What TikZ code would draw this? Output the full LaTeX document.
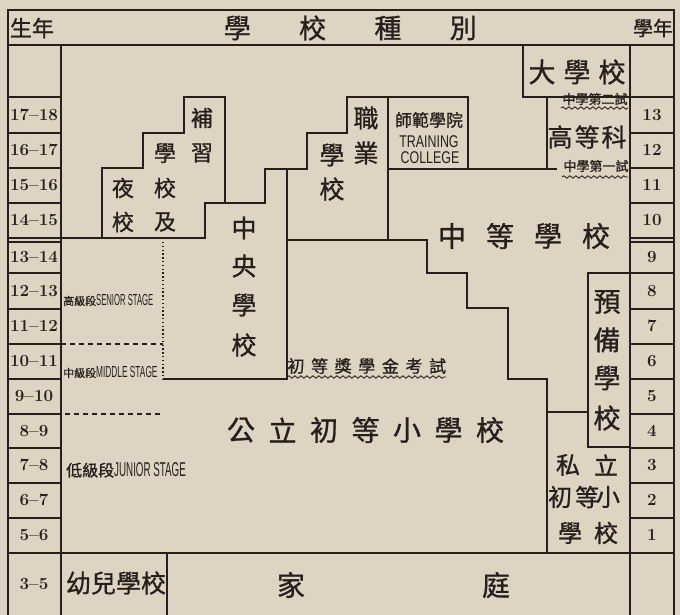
\documentclass[tikz,border=0pt]{standalone}
\usepackage{fontspec}
\usepackage{tikz}
\usetikzlibrary{decorations.pathmorphing}
\newfontfamily\cjk[FakeBold=1]{Noto Sans CJK TC}
\newfontfamily\narrowfont{Liberation Sans}
\definecolor{paper}{RGB}{221,212,196}
\definecolor{ink}{RGB}{40,31,27}

\begin{document}
\begin{tikzpicture}[x=1pt,y=-1pt,
rule/.style={draw=ink,line width=1.3pt},
wave/.style={draw=ink,line width=0.9pt,decorate,decoration={snake,amplitude=1.2pt,segment length=6pt}},
han/.style={text=ink,inner sep=0pt,font=\cjk\fontsize{#1}{#1}\selectfont},
num/.style={text=ink,inner sep=0pt,font=\fontsize{17}{17}\selectfont\bfseries},
stage/.style={text=ink,inner sep=0pt,anchor=west}]

% paper
\fill[paper] (0,0) rectangle (680,615);
\useasboundingbox (0,0) rectangle (680,615);

% frame, header and year columns
\draw[rule] (8,615) -- (8,10) -- (674,10) -- (674,615);
\draw[rule] (8,45) -- (674,45);
\draw[rule] (61,45) -- (61,615);
\draw[rule] (630,45) -- (630,615);
\foreach \y in {97,133,168,203,238,242,273,309,344,379,414,448,483,518}
  \draw[rule] (8,\y) -- (61,\y) (630,\y) -- (674,\y);
\draw[rule] (8,553) -- (674,553);

\node[han=22] (shengnian) at (32,28) {生年};
\foreach \c [count=\i] in {學,校,種,別}
  \node[han=27] (title\i) at (162+75.3*\i,28) {\c};
\node[han=20] (xuenian) at (653,28) {學年};

% ages and school years
\foreach \y/\a/\n in {115/17--18/13,150/16--17/12,185/15--16/11,220/14--15/10,
  257/13--14/9,291/12--13/8,326/11--12/7,361/10--11/6,396/9--10/5,431/8--9/4,
  465/7--8/3,500/6--7/2,535/5--6/1}
{
  \node[num] (age\n) at (34,\y) {\a};
  \node[num] (year\n) at (652,\y) {\n};
}
\node[num] (age0) at (34,584) {3--5};

% school boxes
\draw[rule] (523,45) -- (523,97) -- (630,97);
\draw[rule] (547,97) -- (547,169);
\draw[rule] (388,169) -- (557,169);
\draw[rule] (388,240) -- (388,97) -- (468,97) -- (468,169);
\draw[rule] (388,97) -- (347,97) -- (347,133) -- (307,133) -- (307,169) -- (265,169)
  -- (265,203) -- (205,203) -- (205,238) -- (61,238);
\draw[rule] (225,203) -- (225,97) -- (184,97) -- (184,133) -- (143,133) -- (143,168)
  -- (102,168) -- (102,238);
\draw[rule] (287,169) -- (287,379) -- (163,379);
\draw[rule] (287,240) -- (427,240) -- (427,273) -- (467,273) -- (467,308) -- (508,308)
  -- (508,379) -- (547,379) -- (547,553);
\draw[rule] (630,273) -- (588,273) -- (588,447) -- (630,447);
\draw[rule] (547,412) -- (588,412);
\draw[rule] (167,553) -- (167,615);

% stages
\draw[ink,line width=1.2pt,dash pattern=on 5pt off 4pt] (61,344) -- (163,344);
\draw[ink,line width=1.2pt,dash pattern=on 5pt off 4pt] (65,414) -- (161,414);
\draw[ink,line width=1.3pt,dash pattern=on 1.3pt off 2.5pt] (163,242) -- (163,379);

% exams
\draw[wave] (287,377) -- (446,377);
\draw[wave] (561,108) -- (628,108);
\draw[wave] (562,177) -- (628,177);

% school names
\foreach \c/\x in {大/542,學/577,校/612}
  \node[han=27] (daxue\x) at (\x,72) {\c};
\node[han=13] (exam2) at (595,99) {中學第二試};
\foreach \c/\x in {高/560,等/587,科/614}
  \node[han=25] (gaodeng\x) at (\x,137) {\c};
\node[han=13] (exam1) at (596,166) {中學第一試};
\node[han=17] (shifan) at (429,120) {師範學院};
\node[text=ink,inner sep=0pt] (training) at (429,142)
  {\scalebox{0.73}[1]{\narrowfont\fontsize{17}{17}\selectfont TRAINING}};
\node[text=ink,inner sep=0pt] (college) at (430,158)
  {\scalebox{0.73}[1]{\narrowfont\fontsize{17}{17}\selectfont COLLEGE}};
\foreach \c/\x/\y in {職/366/118,業/366/153,學/332/155,校/332/189}
  \node[han=25] (zhiye\x\y) at (\x,\y) {\c};
\foreach \c/\x/\y in {補/202/118,習/202/153,學/165/153,校/165/188,及/165/222,夜/123/188,校/123/222}
  \node[han=22] (buxi\x\y) at (\x,\y) {\c};
\foreach \c/\y in {中/228,央/266,學/305,校/345}
  \node[han=25] (zhongyang\y) at (244,\y) {\c};
\foreach \c/\x in {中/452,等/500,學/548,校/596}
  \node[han=28] (zhongdeng\x) at (\x,236) {\c};
\foreach \c/\y in {預/302,備/340,學/378,校/418}
  \node[han=27] (yubei\y) at (607,\y) {\c};
\foreach \c/\x/\y in {私/568/465,立/606/465,初/560/497,等/587/497,小/608/497,學/570/533,校/606/533}
  \node[han=24] (sili\x\y) at (\x,\y) {\c};
\foreach \c [count=\i from 0] in {公,立,初,等,小,學,校}
  \node[han=28] (gongli\i) at (241+41.5*\i,430) {\c};
\foreach \c [count=\i from 0] in {初,等,獎,學,金,考,試}
  \node[han=17] (jiang\i) at (296+23.6*\i,366) {\c};

% stage labels
\node[stage] (senior) at (63,300) {{\cjk\fontsize{11}{11}\selectfont 高級段}%
  \scalebox{0.48}[1]{\narrowfont\fontsize{16}{16}\selectfont SENIOR STAGE}};
\node[stage] (middle) at (63,372) {{\cjk\fontsize{11}{11}\selectfont 中級段}%
  \scalebox{0.52}[1]{\narrowfont\fontsize{16}{16}\selectfont MIDDLE STAGE}};
\node[stage] (junior) at (66,470) {{\cjk\fontsize{16}{16}\selectfont 低級段}%
  \scalebox{0.49}[1]{\narrowfont\fontsize{20}{20}\selectfont JUNIOR STAGE}};

% bottom row
\node[han=25] (youer) at (116,583) {幼兒學校};
\node[han=28] (jia) at (291,585) {家};
\node[han=28] (ting) at (496,585) {庭};
\end{tikzpicture}
\end{document}
